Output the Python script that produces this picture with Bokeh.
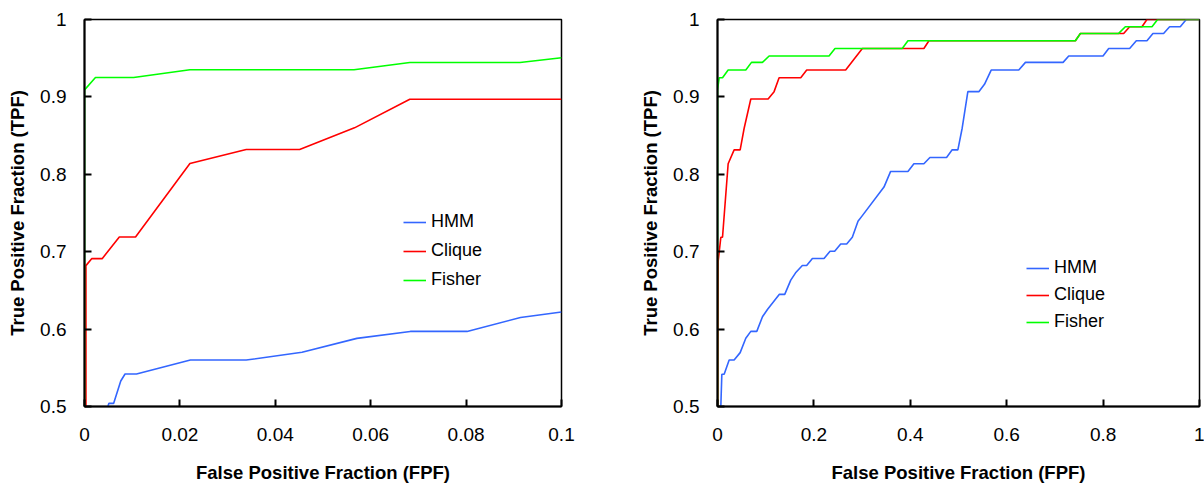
from bokeh.plotting import figure
from bokeh.layouts import row
from bokeh.models import Range1d, FixedTicker, CustomJSTickFormatter, Legend, LegendItem
from bokeh.embed import file_html
from bokeh.resources import INLINE

# ---------------- data ----------------
series_names = ["HMM", "Clique", "Fisher"]
series_colors = ["#3366ff", "#ff0000", "#00ff00"]

# left panel (FPF 0 .. 0.1)
left_hmm_fpf = [0.0049, 0.0051, 0.0061, 0.0076, 0.0085, 0.0109, 0.0222, 0.0339, 0.0456, 0.0571, 0.0683, 0.0802, 0.0914, 0.1]
left_hmm_tpf = [0.5, 0.504, 0.504, 0.533, 0.542, 0.542, 0.560, 0.560, 0.570, 0.588, 0.597, 0.597, 0.615, 0.622]
left_clique_fpf = [0.0003, 0.0003, 0.0015, 0.0037, 0.0073, 0.0107, 0.0221, 0.0339, 0.0451, 0.0566, 0.0682, 0.1]
left_clique_tpf = [0.5, 0.682, 0.691, 0.691, 0.719, 0.719, 0.814, 0.832, 0.832, 0.860, 0.897, 0.897]
left_fisher_fpf = [0.0, 0.0, 0.0023, 0.0103, 0.0221, 0.0565, 0.0682, 0.0913, 0.1]
left_fisher_tpf = [0.5, 0.909, 0.925, 0.925, 0.935, 0.935, 0.9445, 0.9445, 0.9505]

# right panel (FPF 0 .. 1)
right_hmm_fpf = [0.0069, 0.009, 0.0138, 0.0242, 0.0345, 0.047, 0.0587, 0.0691, 0.0815, 0.0933, 0.1036,
                 0.128, 0.1395, 0.152, 0.162, 0.176, 0.185, 0.1969, 0.221, 0.2335, 0.2431, 0.2556,
                 0.268, 0.2797, 0.2915, 0.3005, 0.3454, 0.3592, 0.3951, 0.4075, 0.4282, 0.4407,
                 0.4752, 0.4869, 0.4987, 0.5076, 0.5194, 0.5422, 0.5539, 0.5678, 0.6251, 0.6389,
                 0.717, 0.7287, 0.7998, 0.8116, 0.8551, 0.8689, 0.891, 0.9034, 0.9255, 0.938,
                 0.9601, 0.9725, 1.0]
right_hmm_tpf = [0.5, 0.5417, 0.5417, 0.5601, 0.5601, 0.5696, 0.5881, 0.5971, 0.5971, 0.616, 0.6254,
                 0.6448, 0.6448, 0.6632, 0.6727, 0.6821, 0.6821, 0.6912, 0.6912, 0.7006, 0.7006, 0.71,
                 0.71, 0.7186, 0.7393, 0.7466, 0.7835, 0.8037, 0.8037, 0.8136, 0.8136, 0.8217,
                 0.8217, 0.8316, 0.8316, 0.8595, 0.9068, 0.9068, 0.9162, 0.9347, 0.9347, 0.9446,
                 0.9446, 0.9528, 0.9528, 0.9626, 0.9626, 0.9725, 0.9725, 0.982, 0.982, 0.9906,
                 0.9906, 1.0, 1.0]
right_clique_fpf = [0.0005, 0.0014, 0.0069, 0.0104, 0.0221, 0.0345, 0.047, 0.0553, 0.0691, 0.105,
                    0.1174, 0.1278, 0.1727, 0.1851, 0.2659, 0.3005, 0.4282, 0.4386, 0.7425, 0.7529,
                    0.8427, 0.8551, 0.8806, 0.891, 1.0]
right_clique_tpf = [0.5, 0.6877, 0.7186, 0.7186, 0.8136, 0.8316, 0.8316, 0.8595, 0.8973, 0.8973,
                    0.9068, 0.9248, 0.9248, 0.9347, 0.9347, 0.9626, 0.9626, 0.9725, 0.9725, 0.982,
                    0.982, 0.9906, 0.9906, 1.0, 1.0]
right_fisher_fpf = [0.0, 0.0, 0.0035, 0.0104, 0.0221, 0.0587, 0.0705, 0.0932, 0.1071, 0.2314, 0.2438,
                    0.3833, 0.3951, 0.7425, 0.7529, 0.8323, 0.8461, 0.9014, 0.9131, 1.0]
right_fisher_tpf = [0.5, 0.909, 0.9248, 0.9248, 0.9347, 0.9347, 0.9446, 0.9446, 0.9528, 0.9528, 0.9626,
                    0.9626, 0.9725, 0.9725, 0.982, 0.982, 0.9906, 0.9906, 1.0, 1.0]

left_x_ticks = [0, 0.02, 0.04, 0.06, 0.08, 0.1]
right_x_ticks = [0, 0.2, 0.4, 0.6, 0.8, 1]
y_ticks = [0.5, 0.6, 0.7, 0.8, 0.9, 1]

x_title = "False Positive Fraction (FPF)"
y_title = "True Positive Fraction (TPF)"

FONT = "Liberation Sans"


def make_panel(width, border_left, border_right, x_max, x_ticks, curves, legend_xy, legend_spacing):
    p = figure(width=width, height=485, output_backend="svg", toolbar_location=None,
               x_range=Range1d(0, x_max), y_range=Range1d(0.5, 1),
               min_border_left=border_left, min_border_right=border_right,
               min_border_top=19, min_border_bottom=78)
    p.grid.visible = False
    p.outline_line_color = "black"
    p.outline_line_width = 1.5
    p.outline_line_alpha = 1
    p.background_fill_color = "white"
    p.border_fill_color = "white"

    fmt = CustomJSTickFormatter(code="return String(Math.round(tick*1000)/1000);")
    p.xaxis.ticker = FixedTicker(ticks=x_ticks)
    p.yaxis.ticker = FixedTicker(ticks=y_ticks)
    p.xaxis.formatter = fmt
    p.yaxis.formatter = fmt
    for ax in (p.xaxis, p.yaxis):
        ax.axis_line_color = "black"
        ax.axis_line_width = 2
        ax.major_tick_in = 7
        ax.major_tick_out = 0
        ax.major_tick_line_width = 2
        ax.major_tick_line_color = "black"
        ax.minor_tick_line_color = None
        ax.major_label_text_font = FONT
        ax.major_label_text_font_size = "19px"
        ax.major_label_text_color = "black"
        ax.axis_label_text_font = FONT
        ax.axis_label_text_font_size = "18.5px"
        ax.axis_label_text_font_style = "bold"
        ax.axis_label_text_color = "black"
    p.xaxis.major_label_standoff = 21
    p.yaxis.major_label_standoff = 18
    p.xaxis.axis_label = x_title
    p.yaxis.axis_label = y_title
    p.xaxis.axis_label_standoff = 18
    p.yaxis.axis_label_standoff = 9

    items = []
    for name, color, (xs, ys) in zip(series_names, series_colors, curves):
        r = p.line(xs, ys, line_color=color, line_width=1.6)
        items.append(LegendItem(label=name, renderers=[r]))

    legend = Legend(items=items, location=legend_xy, orientation="vertical",
                    background_fill_alpha=0, border_line_color=None,
                    padding=0, margin=0, spacing=legend_spacing,
                    glyph_width=23, glyph_height=20, label_height=20,
                    label_standoff=5, label_text_font=FONT,
                    label_text_font_size="18px", label_text_color="black")
    p.add_layout(legend)
    return p


left = make_panel(600, 84, 39, 0.1, left_x_ticks,
                  [(left_hmm_fpf, left_hmm_tpf), (left_clique_fpf, left_clique_tpf),
                   (left_fisher_fpf, left_fisher_tpf)],
                  (319, 116), 8)
right = make_panel(604, 117, 5, 1.0, right_x_ticks,
                   [(right_hmm_fpf, right_hmm_tpf), (right_clique_fpf, right_clique_tpf),
                    (right_fisher_fpf, right_fisher_tpf)],
                   (309, 74), 6)

layout = row(left, right, spacing=0)
open("out.html", "w").write(file_html(layout, INLINE))
